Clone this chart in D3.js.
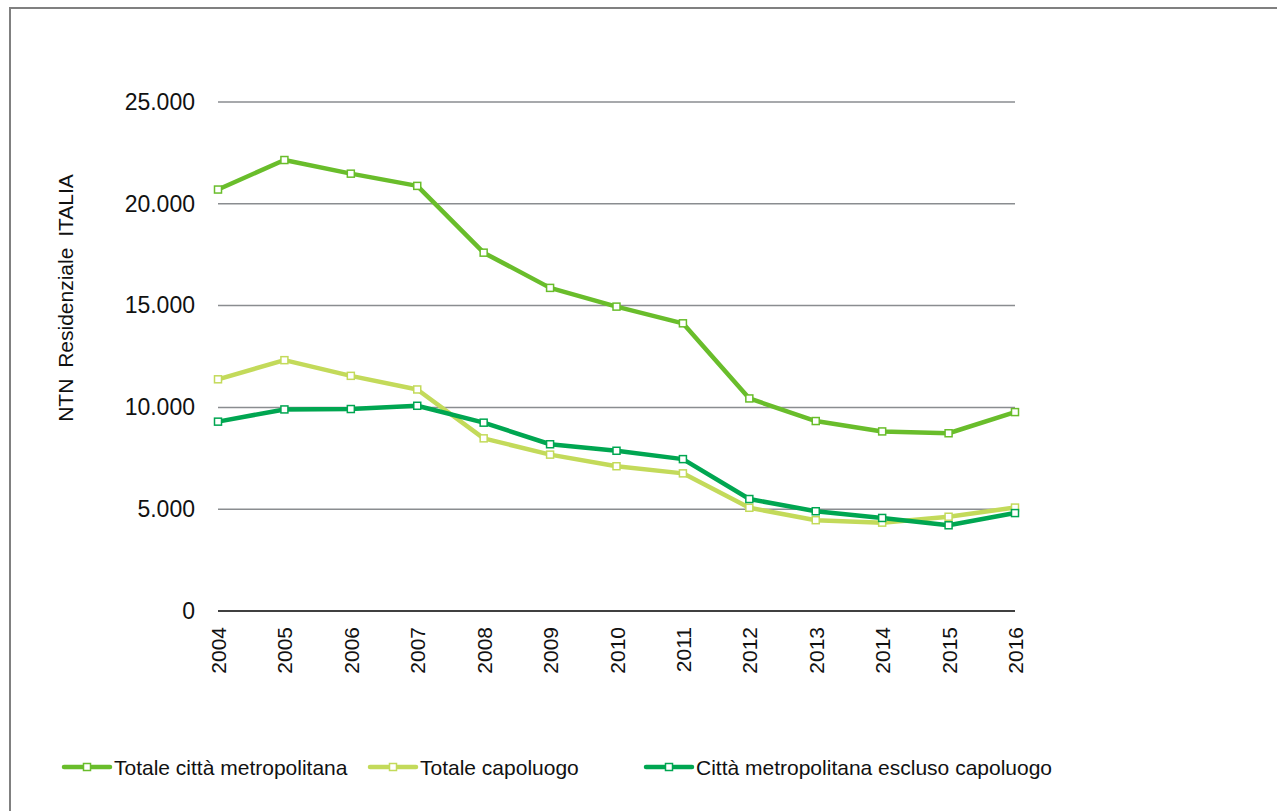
<!DOCTYPE html>
<html><head><meta charset="utf-8">
<script src="https://cdn.jsdelivr.net/npm/d3@7"></script>
<style>body{margin:0;background:#fff}svg{display:block}text{font-family:"Liberation Sans",Arial,sans-serif;fill:#111}</style>
</head><body>
<svg id="c" width="1277" height="811"></svg>
<script>
const years = ["2004","2005","2006","2007","2008","2009","2010","2011","2012","2013","2014","2015","2016"];
const totaleCittaMetropolitana = [20700,22150,21480,20880,17600,15870,14950,14130,10440,9330,8820,8730,9770];
const totaleCapoluogo = [11380,12320,11550,10880,8480,7680,7110,6760,5070,4460,4340,4630,5080];
const cittaMetroEsclusoCapoluogo = [9300,9900,9920,10080,9250,8190,7870,7460,5500,4900,4570,4210,4810];
const yTicks = [0,5000,10000,15000,20000,25000];
const yTickLabels = ["0","5.000","10.000","15.000","20.000","25.000"];
const seriesNames = ["Totale città metropolitana","Totale capoluogo","Città metropolitana escluso capoluogo"];
const colors = ["#69bd2b","#c3da5a","#00a651"];

const svg = d3.select("#c");
svg.append("rect").attr("x",10).attr("y",8).attr("width",1300).attr("height",900)
  .attr("fill","none").attr("stroke","#808080").attr("stroke-width",2);

const x = d3.scalePoint().domain(years).range([218,1015]);
const y = d3.scaleLinear().domain([0,25000]).range([611,102]);

// gridlines
svg.append("g").selectAll("line").data(yTicks.filter(d=>d>0)).join("line")
  .attr("x1",218).attr("x2",1015).attr("y1",d=>y(d)).attr("y2",d=>y(d))
  .attr("stroke","#8a8d90").attr("stroke-width",1.5);
svg.append("line").attr("x1",218).attr("x2",1015).attr("y1",y(0)).attr("y2",y(0))
  .attr("stroke","#000").attr("stroke-width",1.5);

// y axis labels
const yAxis = d3.axisLeft(y).tickValues(yTicks).tickFormat((d,i)=>yTickLabels[i]).tickSize(0).tickPadding(0);
const gy = svg.append("g").attr("transform","translate(195,0)").call(yAxis);
gy.select(".domain").remove();
gy.selectAll("text").style("font-size","23px").style("font-family","Liberation Sans, Arial, sans-serif").attr("fill","#111");

// x axis labels
const xAxis = d3.axisBottom(x).tickSize(0).tickPadding(0);
const gx = svg.append("g").attr("transform","translate(0,627)").call(xAxis);
gx.select(".domain").remove();
gx.selectAll("text").style("font-size","21px").style("font-family","Liberation Sans, Arial, sans-serif").attr("fill","#111")
  .attr("transform","rotate(-90)").attr("text-anchor","end").attr("x",0).attr("y",0).attr("dy","0.36em");

// y title
svg.append("text").attr("transform","translate(73,298) rotate(-90)").attr("text-anchor","middle")
  .style("font-size","21px").style("word-spacing","5px").text("NTN Residenziale ITALIA");

const allSeries = [totaleCittaMetropolitana,totaleCapoluogo,cittaMetroEsclusoCapoluogo];
const line = d3.line().x((d,i)=>x(years[i])).y(d=>y(d));
allSeries.forEach((s,k)=>{
  svg.append("path").datum(s).attr("d",line).attr("fill","none").attr("stroke",colors[k])
    .attr("stroke-width",4.5).attr("stroke-linejoin","round");
});
allSeries.forEach((s,k)=>{
  svg.append("g").selectAll("rect").data(s).join("rect")
    .attr("x",(d,i)=>x(years[i])-3.5).attr("y",d=>y(d)-3.5).attr("width",7).attr("height",7)
    .attr("fill","#fff").attr("stroke",colors[k]).attr("stroke-width",1.5);
});

// legend
const legendX = [64,370,646];
const lg = svg.append("g");
seriesNames.forEach((n,k)=>{
  const lx = legendX[k], ly = 767;
  lg.append("line").attr("x1",lx).attr("x2",lx+46).attr("y1",ly).attr("y2",ly)
    .attr("stroke",colors[k]).attr("stroke-width",4.5).attr("stroke-linecap","round");
  lg.append("rect").attr("x",lx+23-3.5).attr("y",ly-3.5).attr("width",7).attr("height",7)
    .attr("fill","#fff").attr("stroke",colors[k]).attr("stroke-width",1.5);
  lg.append("text").attr("x",lx+50).attr("y",ly).attr("dy","0.36em").style("font-size","21px").text(n);
});
</script>
</body></html>
